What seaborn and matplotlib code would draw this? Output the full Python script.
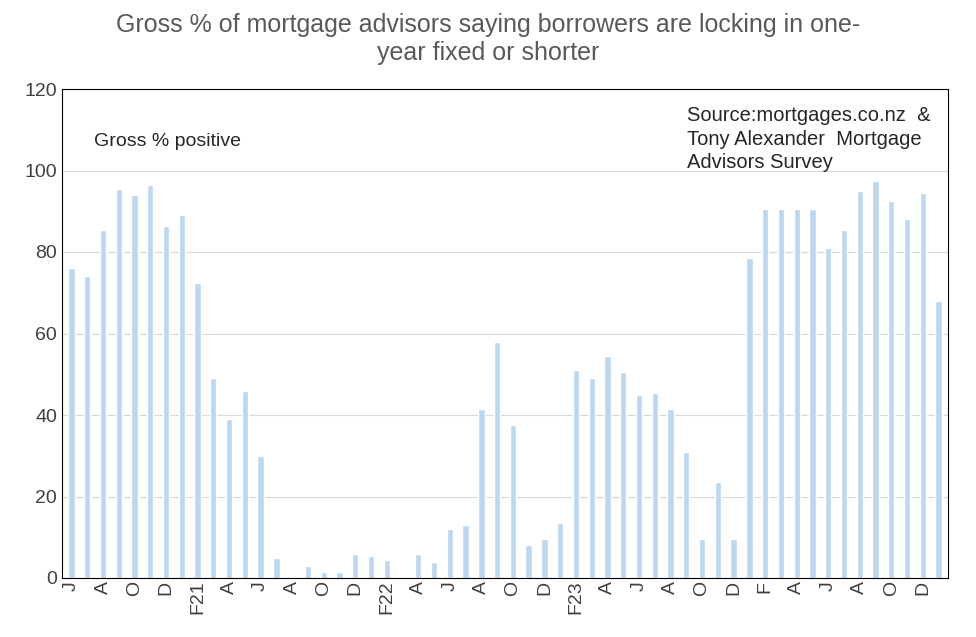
import numpy as np
import pandas as pd
import matplotlib
matplotlib.use("Agg")
import matplotlib.pyplot as plt
import seaborn as sns

# monthly, Jun 2020 .. Jan 2025
values = [76, 74, 85.5, 95.5, 94, 96.5, 86.5, 89, 72.5, 49, 39, 46, 30, 5,
          0, 3, 1.5, 1.5, 6, 5.5, 4.5, 0, 6, 4, 12, 13, 41.5, 58, 37.5, 8,
          9.5, 13.5, 51, 49, 54.5, 50.5, 45, 45.5, 41.5, 31, 9.5, 23.5, 9.5,
          78.5, 90.5, 90.5, 90.5, 90.5, 81, 85.5, 95, 97.5, 92.5, 88, 94.5, 68]
tick_labels = ["J", "A", "O", "D", "F21", "A", "J", "A", "O", "D", "F22", "A",
               "J", "A", "O", "D", "F23", "A", "J", "A", "O", "D", "F", "A",
               "J", "A", "O", "D"]

df = pd.DataFrame({"month": np.arange(len(values)), "value": values})

sns.set_style("white")
plt.rcParams["font.family"] = ["Liberation Sans", "DejaVu Sans"]

fig = plt.figure(figsize=(9.76, 6.37), dpi=100)
ax = fig.add_axes([62 / 976, 1 - 578 / 637, 886 / 976, 489 / 637])
sns.barplot(data=df, x="month", y="value", color="#BDD7EE", width=0.4,
            saturation=1, ax=ax)

ax.set_ylim(0, 120)
ax.set_yticks(range(0, 121, 20))
ax.set_xlim(-0.6, len(values) - 0.4)
ax.set_xticks(range(0, len(values), 2))
ax.set_xticklabels(tick_labels, rotation=90, fontsize=14)
ax.tick_params(axis="y", labelsize=14, length=0)
ax.tick_params(axis="x", length=0, pad=2)
ax.yaxis.grid(True, color="#D9D9D9", linewidth=0.8)
ax.set_axisbelow(True)
for s in ax.spines.values():
    s.set_color("black")
    s.set_linewidth(0.8)
ax.set_xlabel("")
ax.set_ylabel("")
for lbl in ax.get_yticklabels() + ax.get_xticklabels():
    lbl.set_color("#404040")

fig.text(0.5, 0.98, "Gross % of mortgage advisors saying borrowers are locking in one-\nyear fixed or shorter",
         ha="center", va="top", fontsize=18, color="#595959", linespacing=1.25)
ax.text(0.036, 0.91, "Gross % positive", transform=ax.transAxes, fontsize=14, va="top")
ax.text(0.705, 0.965, "Source:mortgages.co.nz  &\nTony Alexander  Mortgage\nAdvisors Survey",
        transform=ax.transAxes, fontsize=14.5, va="top", linespacing=1.3)

plt.savefig("out.png", dpi=100)
